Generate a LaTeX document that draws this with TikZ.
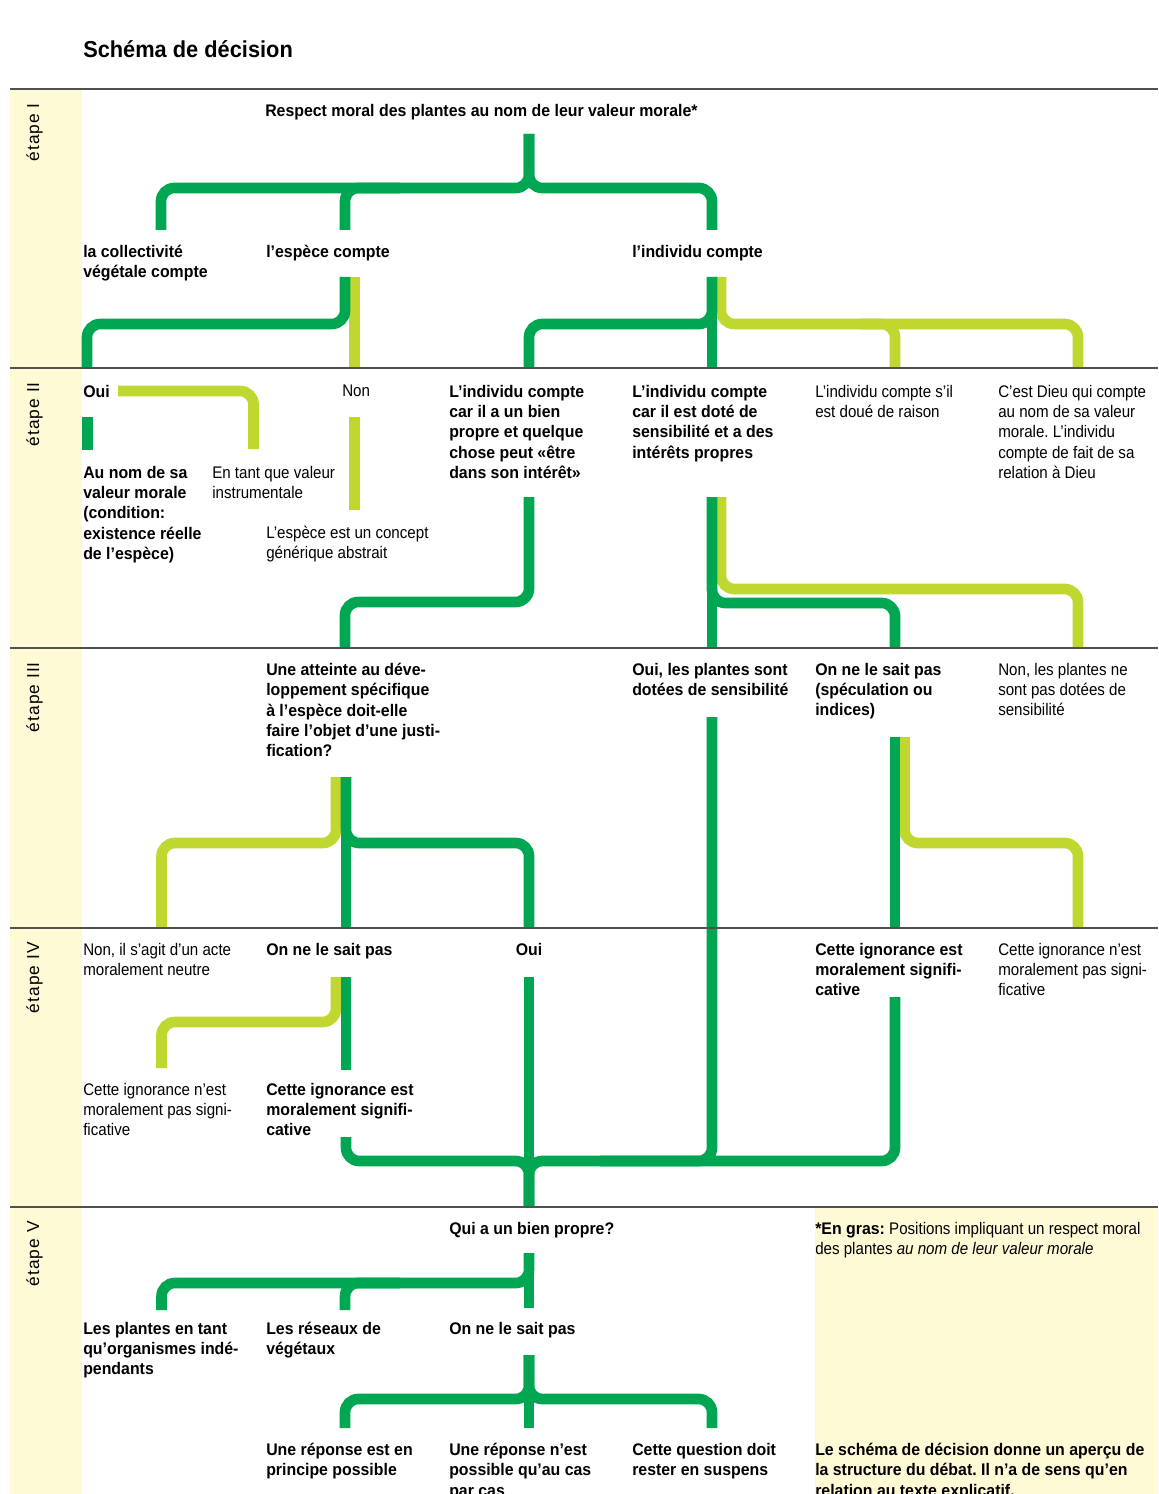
\documentclass[tikz,border=0pt]{standalone}
\usepackage{fontspec}
\setmainfont{Liberation Sans}[
	UprightFeatures={FakeStretch=0.9},
	ItalicFeatures={FakeStretch=0.9},
	BoldFeatures={FakeStretch=0.945}]
\newfontfamily\etapefont{Liberation Sans}[LetterSpace=6]
\usetikzlibrary{positioning}
\frenchspacing
\definecolor{darkgreen}{RGB}{0,166,81}
\definecolor{limegreen}{RGB}{192,215,47}
\definecolor{paleyellow}{RGB}{255,250,214}
\definecolor{rulegray}{RGB}{80,80,80}
\tikzset{%
	green path/.style={
		draw=darkgreen,
		line width=8pt,
		rounded corners=10pt
	},
	lime path/.style={
		draw=limegreen,
		line width=8pt,
		rounded corners=10pt
	},
	stage rule/.style={draw=rulegray, line width=1.5pt},
	plain label/.style={
		anchor=north west,
		inner sep=0pt,
		align=left,
		font=\fontsize{12.6}{15.2}\selectfont
	},
	bold label/.style={plain label, font=\fontsize{12.6}{15.2}\selectfont\bfseries},
	stage label/.style={
		rotate=90,
		anchor=base east,
		inner sep=0pt,
		font=\etapefont\fontsize{13}{15}\selectfont
	},
}
\begin{document}
\begin{tikzpicture}[x=0.75pt, y=-0.75pt]
			\clip (0,0) rectangle (1158,1494);
			% background and yellow bands
			\fill[white] (0,0) rectangle (1158,1494);
			\fill[paleyellow] (10,89) rectangle (82,1494);
			\fill[paleyellow] (815,1208) rectangle (1158,1494);
			
			% light green branches
			\draw[lime path] (354.5,277) -- (354.5,368);
			\draw[lime path] (721,277) |- (1078,324) -- (1078,368);
			\draw[lime path] (895,368) |- (860,324);
			\draw[lime path] (118,391) -| (253.5,449);
			\draw[lime path] (354.5,417) -- (354.5,510);
			\draw[lime path] (721,497) |- (1078,589) -- (1078,648);
			\draw[lime path] (336,777) |- (161.5,843) -- (161.5,928);
			\draw[lime path] (904.5,737) |- (1078,843) -- (1078,928);
			\draw[lime path] (336,977) |- (161.5,1022) -- (161.5,1068);
			
			% dark green branches
			\draw[green path] (161,230) |- (529,188) -- (529,134);
			\draw[green path] (712,230) |- (529,188) -- (529,134);
			\draw[green path] (345,230) |- (400,188);
			\draw[green path] (345,277) |- (87,324) -- (87,368);
			\draw[green path] (712,277) -- (712,368);
			\draw[green path] (712,277) |- (529,324) -- (529,368);
			\draw[green path] (87.5,417) -- (87.5,450);
			\draw[green path] (529,497) |- (345,602) -- (345,648);
			\draw[green path] (712,497) -- (712,648);
			\draw[green path] (712,497) |- (895,603) -- (895,648);
			\draw[green path] (346,777) -- (346,928);
			\draw[green path] (346,777) |- (529,843) -- (529,928);
			\draw[green path] (712,717) |- (600,1161);
			\draw[green path] (895,737) -- (895,928);
			\draw[green path] (346,977) -- (346,1070);
			\draw[green path] (346,1137) |- (529,1161) -- (529,1207);
			\draw[green path] (895,997) |- (529,1161) -- (529,1207);
			\draw[green path] (529,977) -- (529,1207);
			\draw[green path] (161.5,1310) |- (529,1283) -- (529,1253);
			\draw[green path] (529,1253) -- (529,1308);
			\draw[green path] (345,1310) |- (400,1283);
			\draw[green path] (345,1428) |- (529,1399) -- (529,1355);
			\draw[green path] (712,1428) |- (529,1399) -- (529,1355);
			\draw[green path] (529,1355) -- (529,1428);
			
			% stage rules
			\foreach \y in {89,368,648,928,1207}
				\draw[stage rule] (10,\y) -- (1158,\y);
			
			% stage names
			\node[stage label] (st1) at (39,103) {étape I};
			\node[stage label] (st2) at (39,382) {étape II};
			\node[stage label] (st3) at (39,662) {étape III};
			\node[stage label] (st4) at (39,942) {étape IV};
			\node[stage label] (st5) at (39,1221) {étape V};
			
			\node[bold label, font=\fontsize{17.3}{21}\selectfont\bfseries] (title) at (83,40) {Schéma de décision};
			
			% stage I
			\node[bold label] (respect) at (265,104) {Respect moral des plantes au nom de leur valeur morale*};
			\node[bold label] (collect) at (83,245) {la collectivité\\végétale compte};
			\node[bold label] (espece) at (266,245) {l’espèce compte};
			\node[bold label] (individu) at (632,245) {l’individu compte};
			
			% stage II
			\node[bold label] (oui) at (83,385) {Oui};
			\node[plain label] (non) at (342,385) {Non};
			\node[bold label] (bienpropre) at (449,385) {L’individu compte\\car il a un bien\\propre et quelque\\chose peut «être\\dans son intérêt»};
			\node[bold label] (sensib) at (632,385) {L’individu compte\\car il est doté de\\sensibilité et a des\\intérêts propres};
			\node[plain label] (raison) at (815,385) {L’individu compte s’il\\est doué de raison};
			\node[plain label] (dieu) at (998,385) {C’est Dieu qui compte\\au nom de sa valeur\\morale. L’individu\\compte de fait de sa\\relation à Dieu};
			\node[bold label] (aunom) at (83,466) {Au nom de sa\\valeur morale\\(condition:\\existence réelle\\de l’espèce)};
			\node[plain label] (instrum) at (212,466) {En tant que valeur\\instrumentale};
			\node[plain label] (concept) at (266,526) {L’espèce est un concept\\générique abstrait};
			
			% stage III
			\node[bold label] (atteinte) at (266,663) {Une atteinte au déve-\\loppement spécifique\\à l’espèce doit-elle\\faire l’objet d’une justi-\\fication?};
			\node[bold label] (ouisens) at (632,663) {Oui, les plantes sont\\dotées de sensibilité};
			\node[bold label] (speculation) at (815,663) {On ne le sait pas\\(spéculation ou\\indices)};
			\node[plain label] (nonsens) at (998,663) {Non, les plantes ne\\sont pas dotées de\\sensibilité};
			
			% stage IV
			\node[plain label] (neutre) at (83,943) {Non, il s’agit d’un acte\\moralement neutre};
			\node[bold label] (onnesait) at (266,943) {On ne le sait pas};
			\node[bold label, anchor=north] (ouiatteinte) at (529,943) {Oui};
			\node[bold label] (signifa) at (815,943) {Cette ignorance est\\moralement signifi-\\cative};
			\node[plain label] (nonsignifa) at (998,943) {Cette ignorance n’est\\moralement pas signi-\\ficative};
			\node[plain label] (nonsignifb) at (83,1083) {Cette ignorance n’est\\moralement pas signi-\\ficative};
			\node[bold label] (signifb) at (266,1083) {Cette ignorance est\\moralement signifi-\\cative};
			
			% stage V
			\node[bold label] (quibien) at (449,1222) {Qui a un bien propre?};
			\node[plain label] (engras) at (815,1222) {\textbf{*En gras:} Positions impliquant un respect moral\\des plantes \textit{au nom de leur valeur morale}};
			\node[bold label] (plantes) at (83,1322) {Les plantes en tant\\qu’organismes indé-\\pendants};
			\node[bold label] (reseaux) at (266,1322) {Les réseaux de\\végétaux};
			\node[bold label] (onnesaitbien) at (449,1322) {On ne le sait pas};
			\node[bold label] (possible) at (266,1443) {Une réponse est en\\principe possible};
			\node[bold label] (casparcas) at (449,1443) {Une réponse n’est\\possible qu’au cas\\par cas};
			\node[bold label] (suspens) at (632,1443) {Cette question doit\\rester en suspens};
			\node[bold label] (apercu) at (815,1443) {Le schéma de décision donne un aperçu de\\la structure du débat. Il n’a de sens qu’en\\relation au texte explicatif.};
\end{tikzpicture}
\end{document}
